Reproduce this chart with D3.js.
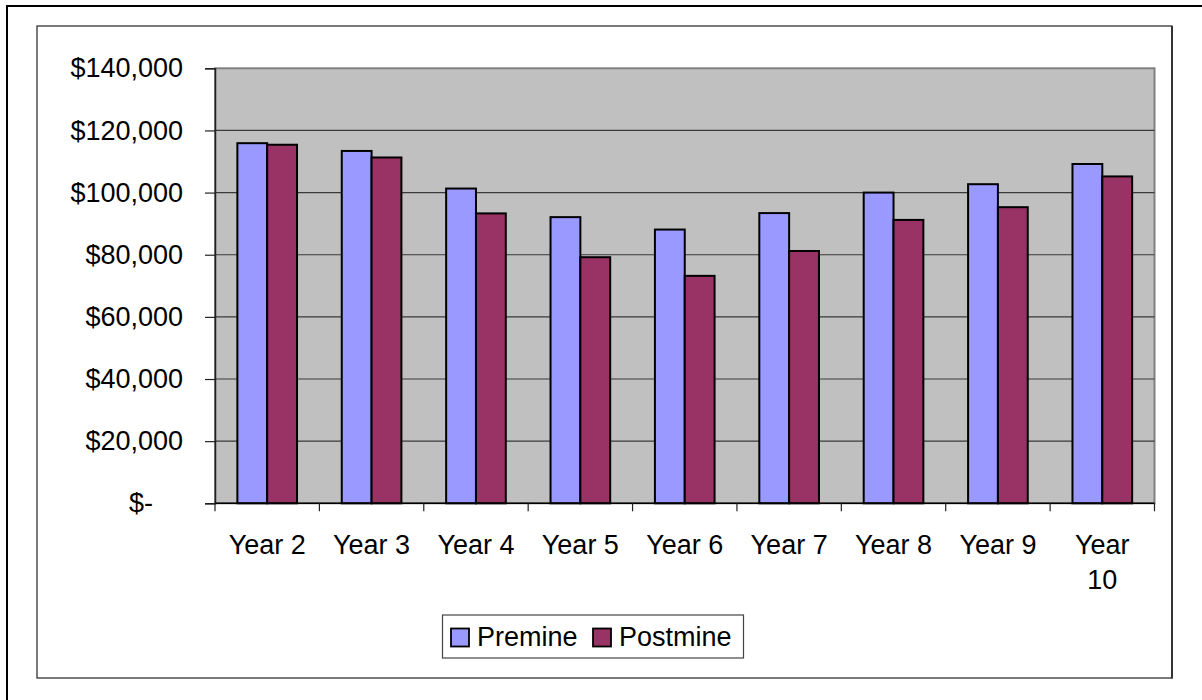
<!DOCTYPE html>
<html>
<head>
<meta charset="utf-8">
<script src="https://cdn.jsdelivr.net/npm/d3@7"></script>
<style>
  html, body { margin: 0; padding: 0; background: #fff; }
  svg { display: block; }
  text { font-family: "Liberation Sans", Arial, sans-serif; fill: #000; }
</style>
</head>
<body>
<svg id="chart" width="1202" height="700"></svg>
<script>
// Annual values, premine vs postmine
const categories = ["Year 2", "Year 3", "Year 4", "Year 5", "Year 6", "Year 7", "Year 8", "Year 9", "Year 10"];
const seriesNames = ["Premine", "Postmine"];
const premine  = [115900, 113400, 101300, 92100, 88100, 93400, 100000, 102700, 109200];
const postmine = [115400, 111300, 93300, 79200, 73200, 81200, 91200, 95300, 105200];
const yTicks = [0, 20000, 40000, 60000, 80000, 100000, 120000, 140000];
const seriesColors = ["#9999FF", "#993366"];

const rows = categories.map((c, i) => ({ cat: c, values: [premine[i], postmine[i]] }));

const svg = d3.select("#chart");
const W = 1202, H = 700;
const plot = { left: 215, right: 1154.5, top: 68.3, bottom: 503.3 };
const fontSize = 27;

// Outer frame (runs off the right and bottom edges)
svg.append("rect")
  .attr("x", 7).attr("y", 6).attr("width", W + 20).attr("height", H + 20)
  .attr("fill", "#fff").attr("stroke", "#000").attr("stroke-width", 2);

// Chart area frame
svg.append("rect")
  .attr("x", 37).attr("y", 26).attr("width", 1135).attr("height", 652)
  .attr("fill", "#fff").attr("stroke", "#222").attr("stroke-width", 1.2);
svg.append("line")
  .attr("x1", 1172).attr("x2", 1172).attr("y1", 26).attr("y2", 678.5)
  .attr("stroke", "#333").attr("stroke-width", 2);

// Scales
const x0 = d3.scaleBand().domain(categories).range([plot.left, plot.right]).paddingInner(0).paddingOuter(0);
const x1 = d3.scaleBand().domain(seriesNames).range([0, x0.bandwidth()]).paddingInner(0).paddingOuter(0.75);
const y = d3.scaleLinear().domain([0, 140000]).range([plot.bottom, plot.top]);

// Plot background
svg.append("rect")
  .attr("x", plot.left).attr("y", plot.top)
  .attr("width", plot.right - plot.left).attr("height", plot.bottom - plot.top)
  .attr("fill", "#C0C0C0").attr("stroke", "#808080").attr("stroke-width", 2);

// Horizontal gridlines
svg.append("g").selectAll("line")
  .data(yTicks.filter(t => t > 0 && t < 140000))
  .join("line")
  .attr("x1", plot.left).attr("x2", plot.right)
  .attr("y1", d => y(d)).attr("y2", d => y(d))
  .attr("stroke", "#3a3a3a").attr("stroke-width", 1.2);

// Bars
const groups = svg.append("g").selectAll("g")
  .data(rows).join("g")
  .attr("transform", d => `translate(${x0(d.cat)},0)`);
groups.selectAll("rect")
  .data(d => d.values.map((v, i) => ({ key: seriesNames[i], v, i })))
  .join("rect")
  .attr("x", d => x1(d.key))
  .attr("y", d => y(d.v))
  .attr("width", x1.bandwidth())
  .attr("height", d => y(0) - y(d.v))
  .attr("fill", d => seriesColors[d.i])
  .attr("stroke", "#000").attr("stroke-width", 2);

// Y axis
const fmt = d3.format(",");
const yAxis = d3.axisLeft(y).tickValues(yTicks).tickSize(10).tickPadding(22)
  .tickFormat(v => v === 0 ? "$-" : "$" + fmt(v));
const gy = svg.append("g").attr("transform", `translate(${plot.left},0)`).call(yAxis);
gy.select(".domain").attr("stroke", "#222").attr("stroke-width", 1.5);
gy.selectAll(".tick line").attr("stroke", "#222").attr("stroke-width", 1.2);
gy.selectAll(".tick text")
  .attr("font-size", fontSize).attr("font-family", "Liberation Sans, Arial, sans-serif")
  .attr("fill", "#000")
  .attr("dx", d => d === 0 ? -2 * 0.556 * fontSize : 0);

// X axis with ticks on category boundaries
const boundaries = categories.map(c => x0(c)).concat([plot.right]);
svg.append("line")
  .attr("x1", plot.left).attr("x2", plot.right)
  .attr("y1", plot.bottom).attr("y2", plot.bottom)
  .attr("stroke", "#000").attr("stroke-width", 1.5);
svg.append("g").selectAll("line")
  .data(boundaries).join("line")
  .attr("x1", d => d).attr("x2", d => d)
  .attr("y1", plot.bottom).attr("y2", plot.bottom + 8)
  .attr("stroke", "#222").attr("stroke-width", 1.2);

// Category labels, wrapped when too wide
const maxLabel = 90;
const xl = svg.append("g").selectAll("text")
  .data(categories).join("text")
  .attr("x", d => x0(d) + x0.bandwidth() / 2)
  .attr("y", 554)
  .attr("text-anchor", "middle")
  .attr("font-size", fontSize);
xl.each(function (d) {
  const t = d3.select(this);
  const words = d.split(" ");
  t.text(d);
  if (this.getComputedTextLength() > maxLabel && words.length > 1) {
    t.text(null);
    words.forEach((w, i) => {
      t.append("tspan")
        .attr("x", x0(d) + x0.bandwidth() / 2)
        .attr("dy", i === 0 ? 0 : 35)
        .text(w);
    });
  }
});

// Legend
const legend = svg.append("g");
legend.append("rect")
  .attr("x", 442.5).attr("y", 615).attr("width", 301).attr("height", 43)
  .attr("fill", "#fff").attr("stroke", "#444").attr("stroke-width", 1.2);
const legendX = [451, 593];
seriesNames.forEach((name, i) => {
  legend.append("rect")
    .attr("x", legendX[i]).attr("y", 628.5).attr("width", 18).attr("height", 18)
    .attr("fill", seriesColors[i]).attr("stroke", "#000").attr("stroke-width", 1.8);
  legend.append("text")
    .attr("x", legendX[i] + 26).attr("y", 646)
    .attr("font-size", fontSize)
    .text(name);
});
</script>
</body>
</html>
